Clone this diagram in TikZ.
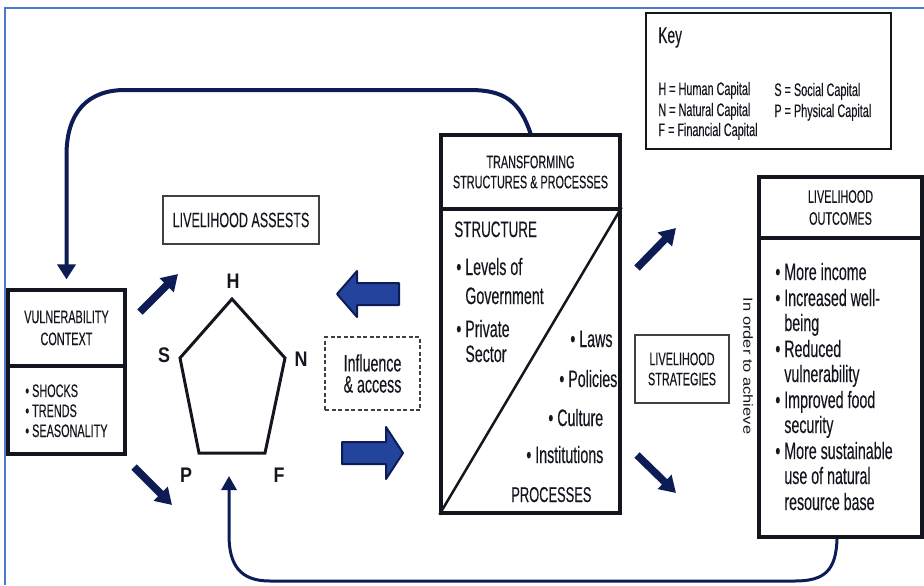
\documentclass[tikz,border=0pt]{standalone}
\usepackage{fontspec}
\setmainfont{Liberation Sans}[FakeStretch=0.6, FakeBold=0.25]
\newfontfamily\labelfont{Liberation Sans}[FakeStretch=0.85]
\newfontfamily\sidefont{Liberation Sans}[FakeStretch=1.25]
\usetikzlibrary{arrows.meta}
\definecolor{navy}{HTML}{0D1C55}
\definecolor{blockblue}{HTML}{23449C}
\definecolor{frameblue}{HTML}{4A7BD0}
\definecolor{ink}{HTML}{14161F}

\begin{document}
\begin{tikzpicture}[x=0.2mm, y=-0.2mm]
  \tikzstyle{box} = [draw=ink, line width=0.65mm, inner sep=0pt, align=center, text=ink]
  \tikzstyle{thinbox} = [box, draw=black!75, line width=0.25mm]
  \tikzstyle{caps} = [font=\fontsize{10.3}{12.5}\selectfont]
  \tikzstyle{txt} = [inner sep=0pt, anchor=base west, text=ink, font=\fontsize{13.5}{14}\selectfont]
  \tikzstyle{keytxt} = [txt, font=\fontsize{10.3}{12}\selectfont]
  \tikzstyle{cornerlabel} = [inner sep=0pt, anchor=base, text=ink, font=\labelfont\bfseries\fontsize{12}{12}\selectfont]
  \tikzstyle{feedback} = [draw=navy, line width=0.8mm, -{Triangle[length=3mm,width=3.6mm]}]
  \tikzstyle{smallarrow} = [draw=navy, line width=1.5mm, -{Triangle[length=3.2mm,width=3.8mm]}]
  \tikzstyle{block} = [fill=blockblue, draw=navy, line width=0.4mm, line join=round]

  \useasboundingbox (0,0) rectangle (924,585);

  % Frame
  \draw[frameblue, line width=0.45mm] (5,585) |- (924,8);

  % Vulnerability context
  \node[box, caps, minimum width=23.4mm, minimum height=15.2mm] (vchead) at (66.5,328) {VULNERABILITY\\CONTEXT};
  \node[box, minimum width=23.4mm, minimum height=17.6mm] (vclist) at (66.5,410) {};
  \foreach \name/\yy in {SHOCKS/397, TRENDS/417, SEASONALITY/437}
    \node[keytxt] (vc-\yy) at (25,\yy) {• \name};

  % Livelihood assets
  \node[thinbox, font=\fontsize{11.9}{12}\selectfont, minimum width=31.2mm, minimum height=9.6mm] (assets) at (241,220) {LIVELIHOOD ASSESTS};

  \coordinate (H) at (232,299);
  \coordinate (N) at (285,358);
  \coordinate (F) at (265,453);
  \coordinate (P) at (199,453);
  \coordinate (S) at (180,358);
  \draw[ink, line width=0.6mm] (H) -- (N) -- (F) -- (P) -- (S) -- cycle;

  \node[cornerlabel] (lab-H) at (233,288) {H};
  \node[cornerlabel] (lab-S) at (164,362) {S};
  \node[cornerlabel] (lab-N) at (301,366) {N};
  \node[cornerlabel] (lab-P) at (186,482) {P};
  \node[cornerlabel] (lab-F) at (279,482) {F};

  % Influence & access
  \node[thinbox, dash pattern=on 0.8mm off 0.5mm, font=\fontsize{13.5}{12}\selectfont, minimum width=19mm, minimum height=14.6mm] (influence) at (372.5,373.5) {Influence\\\& access};

  \draw[block] (399,283) -- (357,283) -- (357,271) -- (337,294) -- (357,317) -- (357,305) -- (399,305) -- cycle;
  \draw[block] (342,442) -- (386,442) -- (386,427) -- (403,453) -- (386,479) -- (386,464) -- (342,464) -- cycle;

  % Transforming structures & processes
  \node[box, font=\fontsize{10.3}{11.4}\selectfont, minimum width=35.8mm, minimum height=14.8mm] (tsphead) at (530.5,172) {TRANSFORMING\\STRUCTURES \& PROCESSES};
  \node[box, minimum width=35.8mm, minimum height=60.8mm] (tsplow) at (530.5,361) {};
  \draw[ink, line width=0.5mm] (tsplow.north east) -- (tsplow.south west);

  \node[txt, font=\fontsize{12.7}{13}\selectfont] (structure) at (454,237) {STRUCTURE};
  \node[txt] (levels) at (456,275) {• Levels of};
  \node[txt] (government) at (465,304) {Government};
  \node[txt] (private) at (456,337) {• Private};
  \node[txt] (sector) at (465,362) {Sector};
  \foreach \name/\xx/\yy in {Laws/570/347, Policies/559/387, Culture/548/426, Institutions/526/463}
    \node[txt] (\name) at (\xx,\yy) {• \name};
  \node[txt, font=\fontsize{12.2}{13}\selectfont] (processes) at (511,502) {PROCESSES};

  % Key
  \node[box, line width=0.5mm, minimum width=49mm, minimum height=27.2mm] (key) at (768.5,81) {};
  \node[txt, font=\fontsize{13}{13}\selectfont] (keytitle) at (658,43) {Key};
  \node[keytxt] (key-H) at (658,95) {H = Human Capital};
  \node[keytxt] (key-N) at (658,116) {N = Natural Capital};
  \node[keytxt] (key-F) at (658,136) {F = Financial Capital};
  \node[keytxt] (key-S) at (774,96) {S = Social Capital};
  \node[keytxt] (key-P) at (774,117) {P = Physical Capital};

  % Strategies and outcomes
  \node[thinbox, font=\fontsize{10.3}{11.4}\selectfont, minimum width=18.8mm, minimum height=13.6mm] (strategies) at (682,369) {LIVELIHOOD\\STRATEGIES};
  \node[inner sep=0pt, rotate=-90, text=ink, font=\sidefont\fontsize{7.5}{8}\selectfont] (achieve) at (748,366) {In order to achieve};

  \node[box, caps, line width=0.8mm, minimum width=32.6mm, minimum height=12.2mm] (outhead) at (840.5,207.5) {LIVELIHOOD\\OUTCOMES};
  \node[box, line width=0.8mm, minimum width=32.6mm, minimum height=59.8mm] (outlow) at (840.5,387.5) {};
  \foreach \line/\yy in {More income/280, Increased well-/306, Reduced/357, Improved food/408, More sustainable/459}
    \node[txt] (out-\yy) at (775,\yy) {• \line};
  \foreach \line/\yy in {being/331, vulnerability/382, security/433, use of natural/484, resource base/510}
    \node[txt] (out-\yy) at (784,\yy) {\line};

  % Small arrows
  \coordinate (vc-up) at (140,312);
  \coordinate (to-H) at (178,274);
  \coordinate (vc-down) at (134,467);
  \coordinate (to-P) at (172,505);
  \coordinate (tsp-up) at (637,268);
  \coordinate (to-strat-up) at (676,228);
  \coordinate (tsp-down) at (637,455);
  \coordinate (to-strat-down) at (676,493);
  \draw[smallarrow] (vc-up) -- (to-H);
  \draw[smallarrow] (vc-down) -- (to-P);
  \draw[smallarrow] (tsp-up) -- (to-strat-up);
  \draw[smallarrow] (tsp-down) -- (to-strat-down);

  % Feedback loops
  \coordinate (assettip) at (229,476);
  \draw[feedback, shorten >=1.8mm] (tsphead.north) .. controls (520,102) and (505,90) .. (470,90) -- (125,90) .. controls (88,90) and (66.5,112) .. (66.5,155) -- (vchead.north);
  \draw[feedback, line width=0.6mm, -{Triangle[length=2.8mm,width=3mm]}] ([xshift=-0.7mm]outlow.south) .. controls (836,570) and (825,581) .. (795,581) -- (270,581) .. controls (240,581) and (229,565) .. (229,535) -- (assettip);

\end{tikzpicture}
\end{document}
